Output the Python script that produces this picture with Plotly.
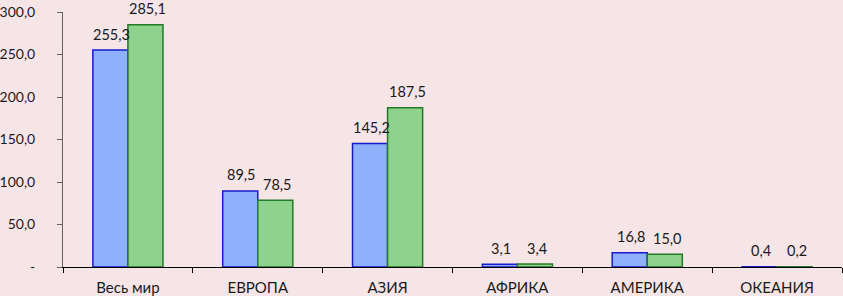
import plotly.graph_objects as go

categories = ["Весь мир", "ЕВРОПА", "АЗИЯ", "АФРИКА", "АМЕРИКА", "ОКЕАНИЯ"]
series_a = [255.3, 89.5, 145.2, 3.1, 16.8, 0.4]
series_b = [285.1, 78.5, 187.5, 3.4, 15.0, 0.2]
y_tick_vals = [0, 50, 100, 150, 200, 250, 300]
y_tick_text = ["-", "50,0", "100,0", "150,0", "200,0", "250,0", "300,0"]

def fmt(v):
    return f"{v:.1f}".replace(".", ",")

font_family = "Lato, 'Open Sans', sans-serif"
bg = "#F5E5E7"

fig = go.Figure()
fig.add_trace(go.Bar(
    x=categories, y=series_a, name="A",
    marker=dict(color="#8FB0FA", line=dict(color="#1A1ACC", width=1.5)),
))
fig.add_trace(go.Bar(
    x=categories, y=series_b, name="B",
    marker=dict(color="#8ED28E", line=dict(color="#247A24", width=1.5)),
))

for c, a, b in zip(categories, series_a, series_b):
    fig.add_annotation(x=c, y=a, text=fmt(a), showarrow=False, xshift=-16, yshift=16,
                       font=dict(size=14.5, color="#1a1a1a", family=font_family))
    fig.add_annotation(x=c, y=b, text=fmt(b), showarrow=False, xshift=20, yshift=16,
                       font=dict(size=14.5, color="#1a1a1a", family=font_family))

fig.update_layout(
    width=843, height=296,
    margin=dict(l=63, r=1, t=12, b=29),
    paper_bgcolor=bg, plot_bgcolor=bg,
    barmode="group", bargap=0.46, bargroupgap=0,
    showlegend=False,
    font=dict(family=font_family, size=15, color="#1a1a1a"),
)
fig.update_xaxes(
    showline=True, linecolor="black", linewidth=1,
    ticks="outside", tickson="boundaries", ticklen=5, tickcolor="black",
    showgrid=False, tickfont=dict(size=15), ticklabelstandoff=7,
    automargin=False,
)
fig.update_yaxes(
    range=[0, 300], tickvals=y_tick_vals, ticktext=y_tick_text,
    showline=True, linecolor="#6b5f60", linewidth=1,
    ticks="outside", ticklen=5, tickcolor="#6b5f60",
    showgrid=False, zeroline=False, tickfont=dict(size=14),
    ticklabelstandoff=19, automargin=False, ticklabeloverflow="allow",
)

fig.write_html("out.html", config={"displayModeBar": False},
               post_script="document.body.style.margin='0px';")
